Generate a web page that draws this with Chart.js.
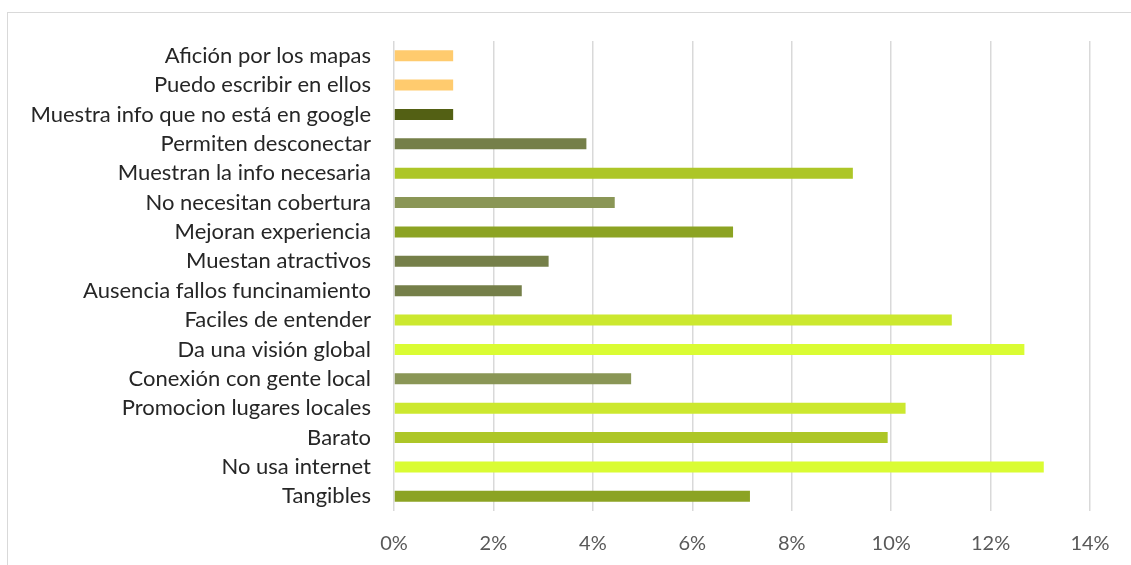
<!DOCTYPE html>
<html lang="es">
<head>
  <meta charset="UTF-8" />
  <title>Ventajas de los mapas en papel</title>
  <script src="https://cdn.jsdelivr.net/npm/chart.js"></script>
  <style>
    body {
      margin: 0;
      width: 1131px;
      height: 565px;
      overflow: hidden;
      background: #fff;
      position: relative;
    }
    #frame {
      position: absolute;
      left: 7px;
      top: 12px;
      width: 1200px;
      height: 600px;
      border: 1px solid #d9d9d9;
    }
    #wrap {
      position: absolute;
      left: 0;
      top: 0;
      width: 1131px;
      height: 565px;
    }
  </style>
</head>
<body>
  <div id="frame"></div>
  <div id="wrap"><canvas id="chart"></canvas></div>
  <script>
    const categories = [
      "Afición por los mapas",
      "Puedo escribir en ellos",
      "Muestra info que no está en google",
      "Permiten desconectar",
      "Muestran la info necesaria",
      "No necesitan cobertura",
      "Mejoran experiencia",
      "Muestan atractivos",
      "Ausencia fallos funcinamiento",
      "Faciles de entender",
      "Da una visión global",
      "Conexión con gente local",
      "Promocion lugares locales",
      "Barato",
      "No usa internet",
      "Tangibles"
    ];
    // porcentajes (0-1)
    const values = [
      0.0119, 0.0119, 0.0119, 0.0387, 0.0923, 0.0444, 0.0682, 0.0311,
      0.0257, 0.1122, 0.1268, 0.0477, 0.1029, 0.0993, 0.1307, 0.0716
    ];
    const barColors = [
      "#FFCB6E", "#FFCB6E", "#536014", "#757F49", "#ADC627", "#8A9656",
      "#8CA323", "#757F49", "#757F49", "#CCE82F", "#DAFC33", "#8A9656",
      "#CCE82F", "#ADC627", "#DAFC33", "#8CA323"
    ];
    const xTicks = [0, 0.02, 0.04, 0.06, 0.08, 0.10, 0.12, 0.14];

    const font = "Lato, 'Open Sans', sans-serif";

    new Chart(document.getElementById("chart"), {
      type: "bar",
      data: {
        labels: categories,
        datasets: [{
          data: values,
          backgroundColor: barColors,
          categoryPercentage: 1,
          barPercentage: 0.375
        }]
      },
      options: {
        indexAxis: "y",
        responsive: true,
        maintainAspectRatio: false,
        animation: false,
        layout: { padding: { left: 0, right: 41, top: 41, bottom: 0 } },
        plugins: {
          legend: { display: false },
          tooltip: { enabled: false }
        },
        scales: {
          x: {
            min: 0,
            max: 0.14,
            afterBuildTicks: axis => { axis.ticks = xTicks.map(v => ({ value: v })); },
            afterFit: axis => { axis.height = 54; },
            grid: { color: "#d9d9d9", lineWidth: 1.5, drawTicks: false },
            border: { display: false },
            ticks: {
              padding: 21,
              color: "#595959",
              font: { family: font, size: 20 },
              callback: v => Math.round(v * 100) + "%"
            }
          },
          y: {
            afterFit: axis => { axis.width = 394; },
            grid: { display: false },
            border: { display: false },
            ticks: {
              padding: 15,
              color: "#262626",
              autoSkip: false,
              font: { family: font, size: 22 }
            }
          }
        }
      }
    });
  </script>
</body>
</html>
